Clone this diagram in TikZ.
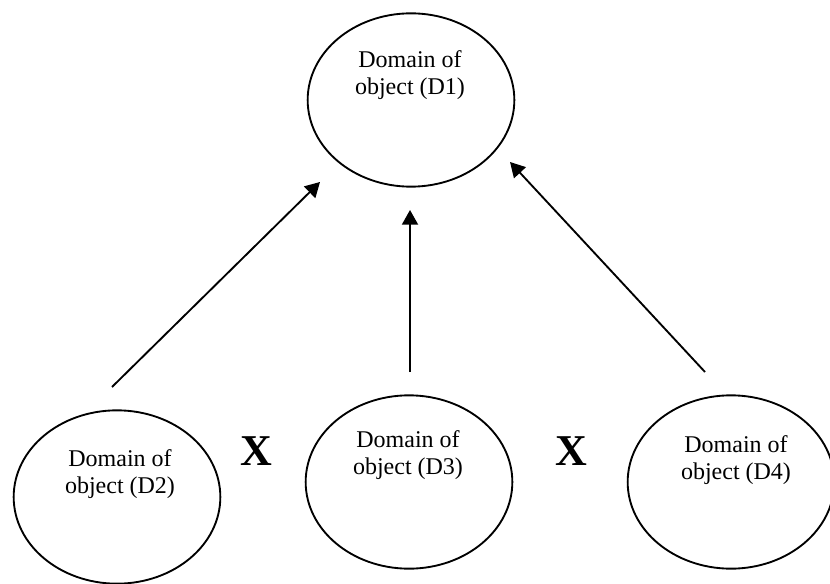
\documentclass[tikz,border=0pt]{standalone}
\usepackage{fontspec}
\setmainfont{Liberation Serif}
\usetikzlibrary{shapes.geometric,arrows.meta}
\begin{document}
\begin{tikzpicture}[x=0.75pt,y=-0.75pt,line width=1.4pt,
	dom/.style={ellipse,draw,inner sep=0pt,minimum width=155pt,minimum height=130pt},
	lbl/.style={align=center,font=\fontsize{18}{20}\selectfont},
	cross/.style={font=\fontsize{33}{33}\selectfont\bfseries},
	arr/.style={-{Triangle[length=11pt,width=12pt]}}]
\useasboundingbox (0,0) rectangle (830,584);
\node[dom] (D1) at (411,100) {};
\node[lbl] (L1) at (410,75) {Domain of\\object (D1)};
\foreach \n/\x/\y/\tx/\ty in {2/117/497/120/474, 3/409/482/408/455, 4/731/482/736/460} {
	\node[dom] (D\n) at (\x,\y) {};
	\node[lbl] (L\n) at (\tx,\ty) {Domain of\\object (D\n)};
}
\node[cross] (X1) at (256,451) {X};
\node[cross] (X2) at (571,451) {X};
\coordinate (S2) at (112,387);
\coordinate (E2) at (320,182);
\coordinate (S3) at (410,372);
\coordinate (E3) at (410,210);
\coordinate (S4) at (705,372);
\coordinate (E4) at (510,162);
\foreach \n in {2,3,4} {
	\draw[arr] (S\n) -- (E\n);
}
\end{tikzpicture}
\end{document}
